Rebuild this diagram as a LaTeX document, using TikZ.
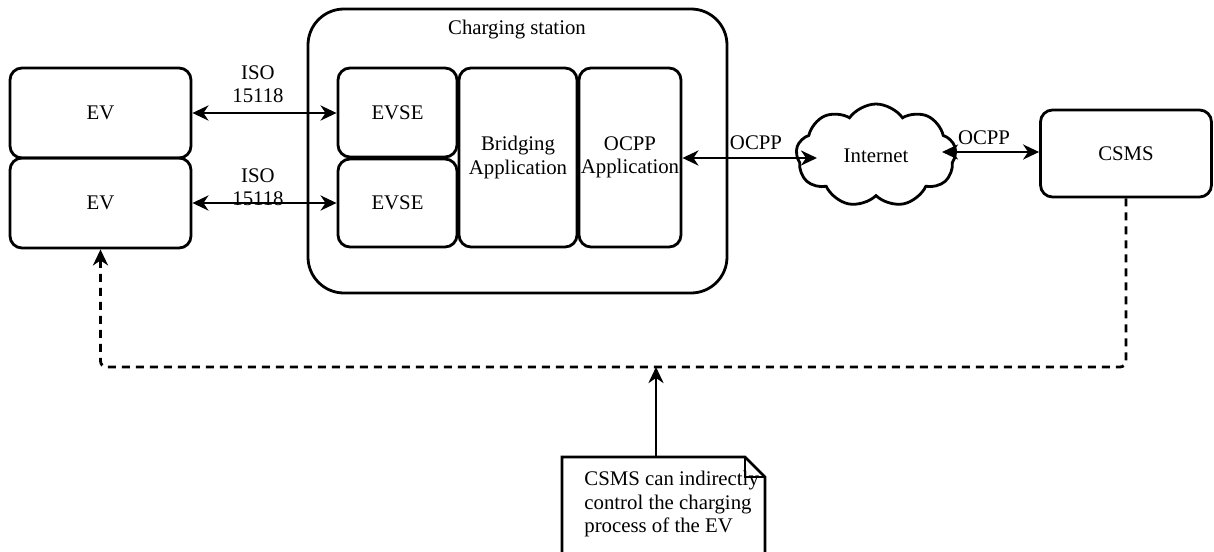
\documentclass[tikz,border=0pt]{standalone}
\usepackage{fontspec}
\setmainfont{Liberation Serif}
\usetikzlibrary{arrows.meta,shapes.symbols,calc}
\newcommand\diagfont{\fontsize{20.8}{23.5}\selectfont}
\begin{document}
\begin{tikzpicture}[x=1pt,y=-1pt,line width=2.8pt,
  >={Stealth[length=16pt,width=15pt,inset=5pt]},
  box/.style={draw,rounded corners=12pt,inner sep=0pt,align=center,font=\diagfont},
  lbl/.style={inner sep=0pt,align=center,font=\diagfont},
  ctrl/.style={dashed,dash pattern=on 8pt off 6pt,rounded corners=6pt}]
\useasboundingbox (0,0) rectangle (1214,551);

% charging station frame and its title
\node[draw,rounded corners=36pt,minimum width=419pt,minimum height=284pt] (station) at (517.5,151) {};
\node[lbl] (stationtitle) at (517,30) {Charging station};

% vehicles
\node[box,minimum width=181pt,minimum height=90pt] (ev1) at (100.5,113) {EV};
\node[box,minimum width=181pt,minimum height=90pt] (ev2) at (100.5,203) {EV};

% units inside the station
\node[box,minimum width=119pt,minimum height=89pt] (evse1) at (397.5,112.5) {EVSE};
\node[box,minimum width=119pt,minimum height=88pt] (evse2) at (397.5,203) {EVSE};
\node[box,minimum width=118pt,minimum height=179pt] (bridge) at (518,157.5) {Bridging\\Application};
\node[box,minimum width=102pt,minimum height=179pt] (ocpp) at (630,157.5) {OCPP\\Application};

% network and back end
\node[draw,cloud,cloud puffs=9,cloud puff arc=110,cloud ignores aspect,minimum width=160pt,minimum height=103pt,
      inner sep=0pt,font=\diagfont] (net) at (876,155.5) {Internet};
\node[box,minimum width=171pt,minimum height=87pt] (csms) at (1126,153.5) {CSMS};

% ISO 15118 links
\draw[<->] (ev1.east) -- (ev1.east -| evse1.west);
\node[lbl] (iso1) at (258,84) {ISO\\15118};
\draw[<->] (ev2.east) -- (ev2.east -| evse2.west);
\node[lbl] (iso2) at (258,187) {ISO\\15118};

% OCPP links
\coordinate (netin) at (817,158);
\coordinate (netout) at (942,152);
\draw[<->] (ocpp.east |- netin) -- (netin);
\node[lbl] (ocppl) at (756,143) {OCPP};
\draw[<->] (netout) -- (netout -| csms.west);
\node[lbl] (ocppr) at (984,138) {OCPP};

% indirect control path
\coordinate (bus) at (656,367);
\draw[ctrl,->] (csms.south) -- (csms.south |- bus) -- (ev2.south |- bus) -- (ev2.south);

% note
\coordinate (notetop) at (656,457);
\draw[fill=white] (562,457) -- (745,457) -- (765,477) -- (765,556) -- (562,556) -- cycle;
\draw (745,457) -- (745,477) -- (765,477);
\node[inner sep=0pt,anchor=north west,align=left,font=\diagfont] (notetext) at (583,470)
  {CSMS can indirectly\\control the charging\\process of the EV};
\draw[->] (notetop) -- (notetop |- bus);
\end{tikzpicture}
\end{document}
